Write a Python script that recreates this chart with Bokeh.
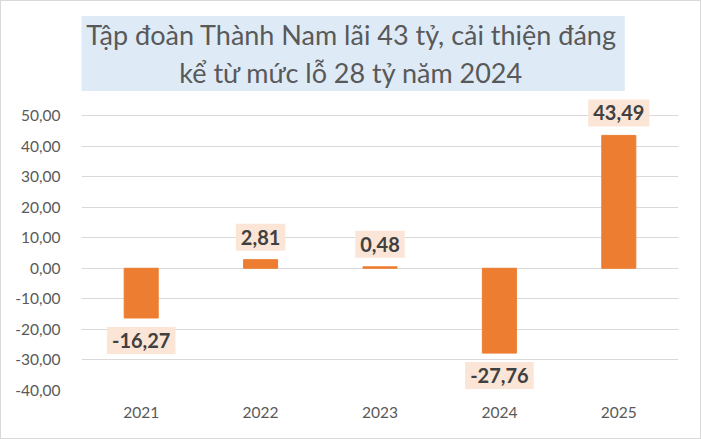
from bokeh.plotting import figure
from bokeh.models import Range1d, FixedTicker, CustomJSTickFormatter, Label
from bokeh.embed import file_html
from bokeh.resources import INLINE

# ---- data ----
years = ["2021", "2022", "2023", "2024", "2025"]
profit = [-16.27, 2.81, 0.48, -27.76, 43.49]
y_ticks = [-40, -30, -20, -10, 0, 10, 20, 30, 40, 50]
title_lines = ["Tập đoàn Thành Nam lãi 43 tỷ, cải thiện đáng",
               "kể từ mức lỗ 28 tỷ năm 2024"]

xs = [i + 0.5 for i in range(len(years))]

p = figure(width=701, height=439,
           x_range=Range1d(0, len(years)), y_range=Range1d(-40, 87.31),
           output_backend="svg", toolbar_location=None,
           min_border_left=80, min_border_right=24,
           min_border_top=0, min_border_bottom=50)
p.styles = {"border": "1px solid #D9D9D9", "box-sizing": "border-box"}
p.outline_line_color = None
p.background_fill_color = "white"
p.border_fill_color = "white"

p.vbar(x=xs, top=profit, bottom=0, width=0.285, color="#ED7D31")

# y axis
p.yaxis.ticker = FixedTicker(ticks=y_ticks)
p.yaxis.formatter = CustomJSTickFormatter(code="return tick.toFixed(2).replace('.', ',');")
p.yaxis.axis_line_color = None
p.yaxis.major_tick_line_color = None
p.yaxis.minor_tick_line_color = None
p.yaxis.major_label_standoff = 15
p.yaxis.major_label_text_font = "Lato"
p.yaxis.major_label_text_font_size = "15.5px"
p.yaxis.major_label_text_color = "#595959"

# x axis
p.xaxis.ticker = FixedTicker(ticks=xs)
p.xaxis.major_label_overrides = {x: y for x, y in zip(xs, years)}
p.xaxis.axis_line_color = None
p.xaxis.major_tick_line_color = None
p.xaxis.minor_tick_line_color = None
p.xaxis.major_label_standoff = 10
p.xaxis.major_label_text_font = "Lato"
p.xaxis.major_label_text_font_size = "15.5px"
p.xaxis.major_label_text_color = "#595959"

p.xgrid.grid_line_color = None
p.ygrid.ticker = FixedTicker(ticks=y_ticks)
p.ygrid.grid_line_color = "#D9D9D9"
p.ygrid.grid_line_width = 1

# data labels
for x, v in zip(xs, profit):
    txt = f"{v:.2f}".replace(".", ",")
    p.add_layout(Label(x=x, y=v, text=txt,
                       y_offset=22.5 if v >= 0 else -22.5,
                       text_align="center", text_baseline="middle",
                       text_font="Lato", text_font_style="bold",
                       text_font_size="20px", text_color="#404040",
                       background_fill_color="#FBE5D6", padding=(5, 6)))

# title box
p.add_layout(Label(x=2.261, y=70.29, text="\n".join(title_lines),
                   text_align="center", text_baseline="middle",
                   text_font="Lato", text_font_size="27px",
                   text_line_height=1.15, text_color="#595959",
                   background_fill_color="#DEEBF7", padding=(8, 2)))

open("out.html", "w").write(file_html(p, INLINE))
